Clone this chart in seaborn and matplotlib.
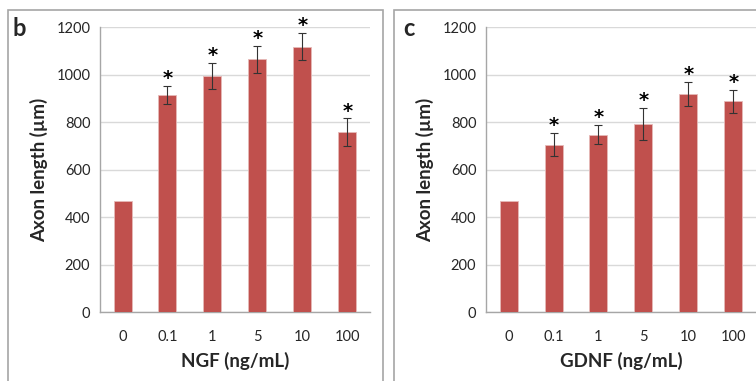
import pandas as pd
import matplotlib.pyplot as plt
import matplotlib.patches as mpatches
import seaborn as sns

# Data
doses = ['0', '0.1', '1', '5', '10', '100']
ngf_mean = [467, 912, 994, 1065, 1117, 757]
ngf_err = [0, 38, 55, 57, 58, 58]
gdnf_mean = [467, 705, 747, 792, 918, 887]
gdnf_err = [0, 50, 40, 66, 49, 48]
signif = [False, True, True, True, True, True]

bar_color = '#C0504D'
grid_color = '#D9D9D9'
frame_color = '#A6A6A6'

sns.set_style('white')
plt.rcParams['font.family'] = ['Lato', 'DejaVu Sans']

fig = plt.figure(figsize=(7.56, 3.81), dpi=100)

# Panel frames
fig.patches.append(mpatches.Rectangle((0.0106, -0.05), 0.496, 1.024, transform=fig.transFigure,
                                      fill=False, edgecolor=frame_color, linewidth=1.2))
fig.patches.append(mpatches.Rectangle((0.521, -0.05), 0.6, 1.024, transform=fig.transFigure,
                                      fill=False, edgecolor=frame_color, linewidth=1.2))

panels = [
    ('b', 'NGF (ng/mL)', ngf_mean, ngf_err, 0.1323, 0.025),
    ('c', 'GDNF (ng/mL)', gdnf_mean, gdnf_err, 0.6429, 0.541),
]

for letter, xlabel, means, errs, left, letter_x in panels:
    ax = fig.add_axes([left, 0.1811, 0.357, 0.748])
    df = pd.DataFrame({'dose': doses, 'length': means})
    sns.barplot(data=df, x='dose', y='length', order=doses, color=bar_color,
                saturation=1, width=0.4, errorbar=None, ax=ax,
                edgecolor='#E6B9B8', linewidth=0.6, zorder=3)

    # Error bars (skip the control bar)
    for i, (m, e) in enumerate(zip(means, errs)):
        if e > 0:
            ax.errorbar(i, m, yerr=e, fmt='none', ecolor='#333333',
                        elinewidth=0.8, capsize=2.8, capthick=0.8, zorder=4)
        if signif[i]:
            ax.annotate('*', xy=(i, m + e), xytext=(0, -1.5), textcoords='offset points',
                        ha='center', va='bottom', fontsize=14, fontweight='bold',
                        color='black', family='DejaVu Sans')

    ax.set_xlim(-0.5, 5.5)
    ax.set_ylim(0, 1200)
    ax.set_yticks(range(0, 1201, 200))
    ax.yaxis.grid(True, color=grid_color, linewidth=1)
    ax.set_axisbelow(True)

    # category boundary ticks on x
    ax.set_xticks([i - 0.5 for i in range(len(doses) + 1)], minor=True)
    ax.tick_params(axis='x', which='minor', length=5, color=frame_color, direction='out', width=1)
    ax.tick_params(axis='x', which='major', length=0, pad=13, labelsize=10.5, colors='#262626')
    ax.tick_params(axis='y', length=4, color=frame_color, direction='out', width=1,
                   labelsize=10.5, colors='#262626', pad=3)

    for side in ['top', 'right']:
        ax.spines[side].set_visible(False)
    for side in ['left', 'bottom']:
        ax.spines[side].set_color(frame_color)
        ax.spines[side].set_linewidth(1)

    ax.set_xlabel(xlabel, fontsize=13.5, fontweight='bold', labelpad=6)
    ax.set_ylabel('Axon length (µm)', fontsize=13.5, fontweight='bold', labelpad=6)

    fig.text(letter_x, 0.925, letter, fontsize=17, fontweight='bold', ha='center', va='center')

fig.savefig('out.png', dpi=100)
